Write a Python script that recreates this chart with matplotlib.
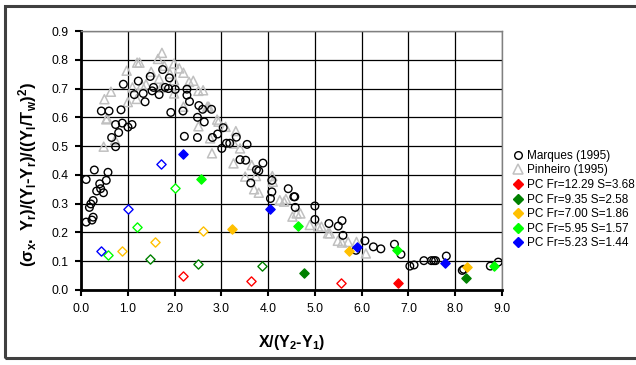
import matplotlib
matplotlib.use("Agg")
import matplotlib.pyplot as plt
from matplotlib.patches import Rectangle
from matplotlib.lines import Line2D

plt.rcParams['font.family'] = ['Liberation Sans', 'DejaVu Sans']
plt.rcParams['mathtext.fontset'] = 'custom'
plt.rcParams['mathtext.rm'] = 'Liberation Sans:bold'
plt.rcParams['mathtext.it'] = 'Liberation Sans:bold'
plt.rcParams['mathtext.bf'] = 'Liberation Sans:bold'

# Marques (1995)
marques_x = [0.11, 0.11, 0.18, 0.21, 0.235, 0.26, 0.26, 0.285, 0.335, 0.40, 0.42, 0.435, 0.48, 0.54,
             0.577, 0.60, 0.655, 0.74, 0.74, 0.805, 0.855, 0.883, 0.905, 1.004, 1.09, 1.14, 1.225,
             1.37, 1.33, 1.48, 1.52, 1.55, 1.67, 1.745, 1.80, 1.87, 1.89, 1.92, 2.015, 2.18, 2.21,
             2.265, 2.265, 2.32, 2.52, 2.49, 2.49, 2.635, 2.60, 2.79, 2.81, 2.92, 3.01, 3.04, 3.11,
             3.18, 3.32, 3.40, 3.52, 3.55, 3.63, 3.75, 3.80, 3.89, 4.05, 4.08, 4.08, 4.43, 4.55,
             4.57, 4.58, 5.0, 5.0, 5.30, 5.50, 5.58, 5.60, 5.88, 6.07, 6.25, 6.41, 6.70, 6.84,
             7.03, 7.12, 7.33, 7.49, 7.54, 7.58, 7.81, 8.15, 8.18, 8.75, 8.92]
marques_y = [0.384, 0.236, 0.287, 0.299, 0.243, 0.253, 0.311, 0.417, 0.344, 0.369, 0.352, 0.622, 0.338,
             0.381, 0.409, 0.622, 0.530, 0.498, 0.575, 0.547, 0.626, 0.580, 0.715, 0.566, 0.575,
             0.679, 0.726, 0.654, 0.683, 0.742, 0.692, 0.704, 0.679, 0.766, 0.704, 0.700, 0.737,
             0.617, 0.697, 0.622, 0.534, 0.698, 0.677, 0.655, 0.641, 0.600, 0.530, 0.584, 0.628,
             0.628, 0.530, 0.542, 0.492, 0.564, 0.510, 0.510, 0.531, 0.453, 0.451, 0.506, 0.372,
             0.418, 0.414, 0.441, 0.318, 0.341, 0.381, 0.352, 0.324, 0.324, 0.287, 0.292, 0.245,
             0.231, 0.222, 0.241, 0.190, 0.138, 0.171, 0.150, 0.143, 0.159, 0.124, 0.083, 0.087,
             0.102, 0.102, 0.102, 0.102, 0.118, 0.068, 0.072, 0.083, 0.097]

# Pinheiro (1995)
pinheiro_x = [0.485, 0.50, 0.54, 0.56, 0.64, 0.73, 0.976, 1.0, 1.20, 1.25, 1.10, 1.19, 1.30, 1.39, 1.50,
              1.67, 1.645, 1.73, 1.78, 1.71, 1.90, 1.99, 1.99, 1.99, 2.10, 2.19, 2.31, 2.40, 2.19,
              2.51, 2.61, 2.51, 2.70, 2.73, 2.76, 2.80, 2.91, 2.94, 3.09, 3.27, 3.31, 3.26, 3.40,
              3.51, 3.65, 3.70, 3.80, 3.74, 4.09, 4.10, 4.25, 4.34, 4.38, 4.52, 4.61, 4.69, 4.89,
              5.07, 5.14, 5.28, 5.32, 5.49, 5.58, 5.71, 5.89, 6.09]
pinheiro_y = [0.498, 0.663, 0.593, 0.596, 0.689, 0.521, 0.762, 0.653, 0.790, 0.790, 0.704, 0.664, 0.712,
              0.715, 0.758, 0.734, 0.803, 0.824, 0.779, 0.703, 0.752, 0.787, 0.729, 0.683, 0.770,
              0.755, 0.723, 0.727, 0.637, 0.692, 0.694, 0.569, 0.637, 0.637, 0.527, 0.475, 0.592,
              0.585, 0.567, 0.509, 0.552, 0.440, 0.492, 0.394, 0.434, 0.350, 0.338, 0.396, 0.396,
              0.376, 0.312, 0.307, 0.316, 0.255, 0.266, 0.266, 0.226, 0.220, 0.220, 0.197, 0.197,
              0.171, 0.165, 0.167, 0.167, 0.127]

# PC series
pc_labels = ["PC Fr=12.29 S=3.68", "PC Fr=9.35 S=2.58", "PC Fr=7.00 S=1.86",
             "PC Fr=5.95 S=1.57", "PC Fr=5.23 S=1.44"]
pc_colors = ["#FF0000", "#008000", "#FFC000", "#00FF00", "#0000FF"]
pc_open_x = [[2.19, 3.625, 5.55], [1.474, 2.51, 3.875], [0.87, 1.59, 2.60],
             [0.584, 1.19, 2.015], [0.435, 1.0, 1.70]]
pc_open_y = [[0.047, 0.032, 0.023], [0.108, 0.089, 0.0845], [0.135, 0.168, 0.204],
             [0.122, 0.219, 0.353], [0.137, 0.280, 0.4375]]
pc_fill_x = [[6.78], [4.77, 8.23], [3.22, 5.73, 8.25],
             [2.56, 4.64, 6.75, 8.83], [2.19, 4.05, 5.91, 7.78]]
pc_fill_y = [[0.023], [0.060, 0.0417], [0.211, 0.137, 0.079],
             [0.385, 0.223, 0.140, 0.0845], [0.471, 0.280, 0.150, 0.0926]]

x_ticks = [0, 1, 2, 3, 4, 5, 6, 7, 8, 9]
y_ticks = [0.0, 0.1, 0.2, 0.3, 0.4, 0.5, 0.6, 0.7, 0.8, 0.9]

fig = plt.figure(figsize=(6.36, 3.65), dpi=100)
fig.patch.set_facecolor('white')
fig.patches.append(Rectangle((5/636, 1-358/365), 1.0, (358-6)/365, transform=fig.transFigure,
                             fill=False, edgecolor='#404040', linewidth=2.2, zorder=0))

ax = fig.add_axes([81/636, 1-290/365, (502-81)/636, (290-31)/365])
ax.set_xlim(0, 9)
ax.set_ylim(0, 0.9)
ax.set_xticks(x_ticks)
ax.set_yticks(y_ticks)
ax.set_xticklabels([f"{v:.1f}" for v in x_ticks])
ax.set_yticklabels([f"{v:.1f}" for v in y_ticks])
ax.tick_params(axis='both', labelsize=8.8, direction='out', length=4, width=1.5, color='black', pad=5)
ax.grid(True, color='black', linewidth=0.9)
ax.set_axisbelow(True)
for s in ['left', 'bottom']:
    ax.spines[s].set_linewidth(2)
    ax.spines[s].set_color('black')
for s in ['top', 'right']:
    ax.spines[s].set_linewidth(1)
    ax.spines[s].set_color('#808080')

ax.scatter(pinheiro_x, pinheiro_y, marker='^', s=42, facecolors='none', edgecolors='#C0C0C0',
           linewidths=1.1, zorder=3)
ax.scatter(marques_x, marques_y, marker='o', s=30, facecolors='none', edgecolors='black',
           linewidths=1.0, zorder=4)
for c, ox, oy, fx, fy in zip(pc_colors, pc_open_x, pc_open_y, pc_fill_x, pc_fill_y):
    ax.scatter(ox, oy, marker='D', s=22, facecolors='white', edgecolors=c, linewidths=1.0, zorder=5)
    ax.scatter(fx, fy, marker='D', s=22, facecolors=c, edgecolors=c, linewidths=1.0, zorder=5)

handles = [Line2D([], [], ls='none', marker='o', ms=5.5, mfc='none', mec='black', mew=1.0),
           Line2D([], [], ls='none', marker='^', ms=6.5, mfc='none', mec='#C0C0C0', mew=1.1)]
for c in pc_colors:
    handles.append(Line2D([], [], ls='none', marker='D', ms=4.8, mfc=c, mec=c))
labels = ["Marques (1995)", "Pinheiro (1995)"] + pc_labels
fig.legend(handles, labels, loc='upper left', bbox_to_anchor=(507/636, 1-144/365),
           frameon=False, fontsize=8.5, handlelength=0.8, handletextpad=0.4,
           labelspacing=0.22, borderpad=0)

fig.text(292/636, 1-343/365, r'$\mathbf{X/(Y_2\text{-}Y_1)}$', ha='center', va='center', fontsize=11.5)
fig.text(28/636, 1-174/365, r'$\mathbf{(\sigma_x.\ Y_r)/(Y_l\text{-}Y_r)/((Y_l/T_w)^2)}$',
         rotation=90, ha='center', va='center', fontsize=12)

fig.savefig('out.png', dpi=100)
